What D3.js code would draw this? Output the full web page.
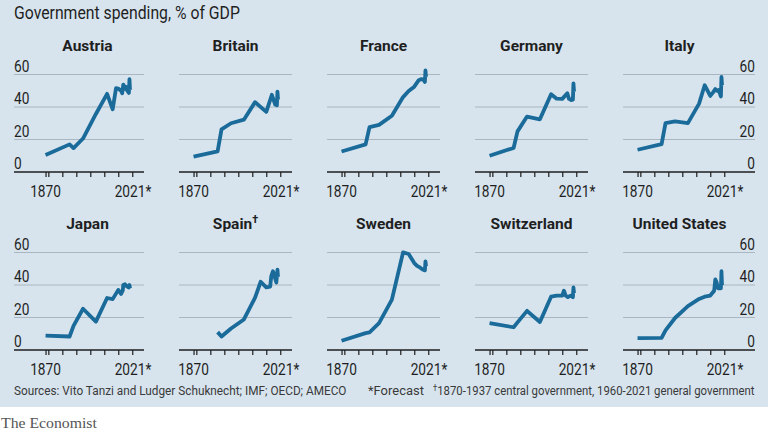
<!DOCTYPE html>
<html><head><meta charset="utf-8">
<script src="https://cdn.jsdelivr.net/npm/d3@7"></script>
<style>
html,body{margin:0;padding:0;background:#fff;}
svg{display:block;}
</style></head>
<body>
<svg id="chart" width="768" height="432"></svg>
<script>
// ---------- data ----------
const countries = ["Austria","Britain","France","Germany","Italy","Japan","Spain","Sweden","Switzerland","United States"];
const austria = [[1870,10.5],[1913,17.0],[1920,14.7],[1937,20.6],[1960,35.7],[1980,48.1],[1990,38.6],[1996,51.6],[2000,51.3],[2005,50.0],[2007,48.5],[2009,53.8],[2012,51.2],[2014,52.4],[2016,50.1],[2019,48.6],[2020,57.1],[2021,50.5]];
const britain = [[1870,9.4],[1913,12.7],[1920,26.2],[1937,30.0],[1960,32.2],[1980,43.0],[2000,37.0],[2010,47.5],[2016,41.5],[2019,41.0],[2020,49.5],[2021,44.5]];
const france = [[1870,12.6],[1913,17.0],[1920,27.6],[1937,29.0],[1960,34.6],[1980,46.1],[1990,49.8],[2000,52.5],[2008,56.5],[2012,57.1],[2016,57.0],[2019,55.4],[2020,62.5],[2021,58.5]];
const germany = [[1870,10.0],[1913,14.8],[1920,25.0],[1937,34.1],[1960,32.4],[1980,47.9],[1990,45.1],[2000,45.0],[2009,48.5],[2012,45.0],[2016,44.3],[2019,44.5],[2020,54.5],[2021,49.5]];
const italy = [[1870,13.7],[1913,17.1],[1920,30.1],[1937,31.1],[1960,30.1],[1980,42.1],[1990,53.4],[2000,46.8],[2005,49.0],[2009,51.0],[2012,50.0],[2015,50.5],[2019,46.5],[2020,58.5],[2021,53.5]];
const japan = [[1870,8.8],[1913,8.3],[1920,14.8],[1937,25.4],[1960,17.5],[1980,32.0],[1990,31.3],[2000,37.0],[2005,34.5],[2008,36.5],[2009,40.0],[2012,40.5],[2016,39.0],[2019,38.5],[2020,40.0],[2021,38.0]];
const spain = [[1913,11.0],[1920,8.3],[1937,13.2],[1960,18.8],[1980,32.2],[1990,42.0],[2000,38.5],[2007,39.0],[2009,45.5],[2012,48.5],[2018,41.5],[2020,49.5],[2021,45.0]];
const sweden = [[1870,5.7],[1913,10.4],[1920,10.9],[1937,16.5],[1960,31.0],[1980,60.1],[1990,59.1],[2000,53.5],[2005,51.8],[2010,50.8],[2015,49.5],[2019,49.0],[2020,54.5],[2021,51.5]];
const switzerland = [[1870,16.5],[1913,14.0],[1920,17.0],[1937,24.1],[1960,17.2],[1980,32.8],[1990,33.5],[2000,33.5],[2003,36.5],[2006,33.5],[2010,32.5],[2015,33.5],[2019,32.5],[2020,38.5],[2021,35.0]];
const unitedStates = [[1870,7.3],[1913,7.5],[1920,12.1],[1937,19.7],[1960,27.0],[1980,31.4],[1990,32.8],[2000,33.5],[2007,36.5],[2009,43.5],[2011,42.0],[2014,38.0],[2019,38.0],[2020,48.5],[2021,40.0]];
const seriesList = [austria,britain,france,germany,italy,japan,spain,sweden,switzerland,unitedStates];
const yTicks = [0,20,40,60];
const xTicks = [1870,1875,1900,1925,1950,1975,2000,2025];
const xFirstLabel = "1870";
const xLastLabel = "2021";
const xLastYear = 2021;

// ---------- style/layout ----------
const BG = "#d7e4ee";
const LINE = "#1a6b9a";
const GRID = "#aab6c0";
const INK = "#1f1f1f";
const FONT = "Roboto,'Open Sans',sans-serif";
const CONDENSE = 0.83;

const svg = d3.select("#chart");
svg.append("rect").attr("x",0).attr("y",0).attr("width",768).attr("height",407).attr("fill",BG);

// condensed text helper: draws text at (x,y) scaled horizontally
function txt(parent, o) {
  const g = parent.append("g");
  const t = g.append("text").attr("x", 0).attr("y", 0)
    .attr("font-family", o.family || FONT).attr("font-size", o.size)
    .attr("font-weight", o.weight || "normal").attr("fill", o.fill || INK)
    .attr("text-anchor", o.anchor || "start").text(o.text);
  let sx = o.sx != null ? o.sx : CONDENSE;
  if (o.fit) sx = o.fit / t.node().getComputedTextLength();
  g.attr("transform", `translate(${o.x},${o.y}) scale(${sx},1)`);
  t.sx = sx;
  return t;
}

txt(svg, {x: 14, y: 19, size: 18.5, text: "Government spending, % of GDP", fit: 226});

const colStep = 148, plotW = 113, firstLeft = 31;
const rowY0 = [172, 350];
const yH = 97.5;

countries.forEach((name, i) => {
  const col = i % 5, row = Math.floor(i / 5);
  const left = firstLeft + col * colStep;
  const x = d3.scaleLinear().domain([1844, 2046]).range([left, left + plotW]);
  const y = d3.scaleLinear().domain([0, 60]).range([rowY0[row], rowY0[row] - yH]);
  const g = svg.append("g");
  const gx0 = col === 0 ? 14 : left;
  const gx1 = col === 4 ? 755 : left + plotW;

  // gridlines
  g.selectAll("line.grid").data(yTicks.filter(d => d > 0)).enter().append("line")
    .attr("x1", gx0).attr("x2", gx1).attr("y1", d => y(d)).attr("y2", d => y(d))
    .attr("stroke", GRID).attr("stroke-width", 1);

  // y labels
  if (col === 0 || col === 4) {
    yTicks.forEach(d => {
      txt(g, {x: col === 0 ? 14 : 755, y: y(d) - 3, size: 16.5, text: String(d),
              anchor: col === 0 ? "start" : "end"});
    });
  }

  // x axis
  const axis = d3.axisBottom(x).tickValues(xTicks).tickSize(5).tickFormat("");
  const ag = g.append("g").attr("transform", `translate(0,${y(0)})`).call(axis);
  ag.select(".domain").remove();
  ag.selectAll(".tick line").attr("stroke", INK).attr("stroke-width", 1.2);
  g.append("line").attr("x1", gx0).attr("x2", gx1).attr("y1", y(0)).attr("y2", y(0))
    .attr("stroke", INK).attr("stroke-width", 1.4);

  const ly = y(0) + 24.5;
  txt(g, {x: x(1870), y: ly, size: 16.5, text: xFirstLabel, anchor: "middle"});
  const t = txt(g, {x: x(xLastYear), y: ly, size: 16.5, text: xLastLabel, anchor: "middle"});
  const w = t.node().getComputedTextLength() * t.sx;
  txt(g, {x: x(xLastYear) + w / 2, y: ly, size: 16.5, text: "*"});

  // title
  const tt = txt(g, {x: left + plotW / 2, y: rowY0[row] - 121.3, size: 15.5, weight: "bold",
                     text: name, anchor: "middle", sx: 1});
  if (name === "Spain") {
    tt.append("tspan").attr("font-size", 11).attr("dy", -6).text("\u2020");
  }

  // line
  const line = d3.line().x(d => x(d[0])).y(d => y(d[1]));
  g.append("path").datum(seriesList[i]).attr("d", line)
    .attr("fill", "none").attr("stroke", LINE).attr("stroke-width", 3.8)
    .attr("stroke-linejoin", "round").attr("stroke-linecap", "butt");
});

// footer
const FC = "#3a3a3a";
txt(svg, {x: 14, y: 395, size: 13.5, fill: FC, text: "Sources: Vito Tanzi and Ludger Schuknecht; IMF; OECD; AMECO", fit: 333});
txt(svg, {x: 368, y: 395, size: 13.5, fill: FC, text: "*Forecast", fit: 56});
const dg = txt(svg, {x: 433, y: 395, size: 13.5, fill: FC, text: "", sx: 1});
dg.append("tspan").attr("font-size", 9).attr("dy", -4).text("\u2020");
dg.append("tspan").attr("dy", 4).text("1870-1937 central government, 1960-2021 general government");
{
  const wd = dg.node().getComputedTextLength();
  d3.select(dg.node().parentNode).attr("transform", `translate(433,395) scale(${322 / wd},1)`);
}

txt(svg, {x: 1, y: 428, size: 15, family: "'Liberation Serif','DejaVu Serif',serif", fill: "#555",
          text: "The Economist", fit: 96});
</script>
</body></html>
